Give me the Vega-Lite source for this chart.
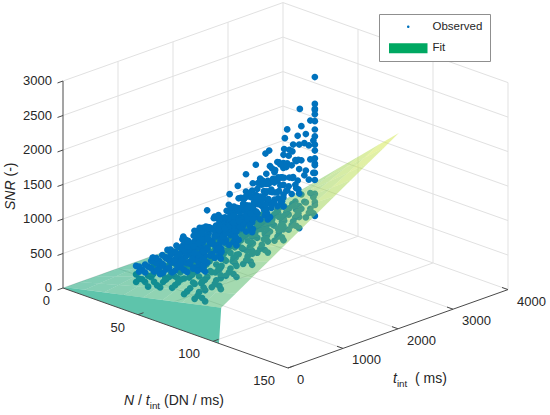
{
  "$schema": "https://vega.github.io/schema/vega-lite/v6.json",
  "width": 550,
  "height": 415,
  "autosize": {"type": "none"},
  "padding": 0,
  "background": "white",
  "config": {"view": {"stroke": null}},
  "datasets": {
    "grid": [
      {"r0":0,"t0":1000,"s0":0,"r1":0,"t1":1000,"s1":3000},
      {"r0":0,"t0":2000,"s0":0,"r1":0,"t1":2000,"s1":3000},
      {"r0":0,"t0":3000,"s0":0,"r1":0,"t1":3000,"s1":3000},
      {"r0":0,"t0":4000,"s0":0,"r1":0,"t1":4000,"s1":3000},
      {"r0":0,"t0":0,"s0":0,"r1":0,"t1":4000,"s1":0},
      {"r0":0,"t0":0,"s0":500,"r1":0,"t1":4000,"s1":500},
      {"r0":0,"t0":0,"s0":1000,"r1":0,"t1":4000,"s1":1000},
      {"r0":0,"t0":0,"s0":1500,"r1":0,"t1":4000,"s1":1500},
      {"r0":0,"t0":0,"s0":2000,"r1":0,"t1":4000,"s1":2000},
      {"r0":0,"t0":0,"s0":2500,"r1":0,"t1":4000,"s1":2500},
      {"r0":0,"t0":0,"s0":3000,"r1":0,"t1":4000,"s1":3000},
      {"r0":50,"t0":4000,"s0":0,"r1":50,"t1":4000,"s1":3000},
      {"r0":100,"t0":4000,"s0":0,"r1":100,"t1":4000,"s1":3000},
      {"r0":150,"t0":4000,"s0":0,"r1":150,"t1":4000,"s1":3000},
      {"r0":0,"t0":4000,"s0":0,"r1":150,"t1":4000,"s1":0},
      {"r0":0,"t0":4000,"s0":500,"r1":150,"t1":4000,"s1":500},
      {"r0":0,"t0":4000,"s0":1000,"r1":150,"t1":4000,"s1":1000},
      {"r0":0,"t0":4000,"s0":1500,"r1":150,"t1":4000,"s1":1500},
      {"r0":0,"t0":4000,"s0":2000,"r1":150,"t1":4000,"s1":2000},
      {"r0":0,"t0":4000,"s0":2500,"r1":150,"t1":4000,"s1":2500},
      {"r0":0,"t0":4000,"s0":3000,"r1":150,"t1":4000,"s1":3000},
      {"r0":50,"t0":0,"s0":0,"r1":50,"t1":4000,"s1":0},
      {"r0":100,"t0":0,"s0":0,"r1":100,"t1":4000,"s1":0},
      {"r0":0,"t0":1000,"s0":0,"r1":150,"t1":1000,"s1":0},
      {"r0":0,"t0":2000,"s0":0,"r1":150,"t1":2000,"s1":0},
      {"r0":0,"t0":3000,"s0":0,"r1":150,"t1":3000,"s1":0}
    ],
    "axes": [
      {"r0":0,"t0":0,"s0":0,"r1":0,"t1":0,"s1":3000},
      {"r0":0,"t0":0,"s0":0,"r1":150,"t1":0,"s1":0},
      {"r0":150,"t0":0,"s0":0,"r1":150,"t1":4000,"s1":0},
      {"r0":0,"t0":0,"s0":0,"r1":0,"t1":-100,"s1":0},
      {"r0":0,"t0":0,"s0":500,"r1":0,"t1":-100,"s1":500},
      {"r0":0,"t0":0,"s0":1000,"r1":0,"t1":-100,"s1":1000},
      {"r0":0,"t0":0,"s0":1500,"r1":0,"t1":-100,"s1":1500},
      {"r0":0,"t0":0,"s0":2000,"r1":0,"t1":-100,"s1":2000},
      {"r0":0,"t0":0,"s0":2500,"r1":0,"t1":-100,"s1":2500},
      {"r0":0,"t0":0,"s0":3000,"r1":0,"t1":-100,"s1":3000},
      {"r0":50,"t0":0,"s0":0,"r1":50,"t1":100,"s1":0},
      {"r0":100,"t0":0,"s0":0,"r1":100,"t1":100,"s1":0},
      {"r0":150,"t0":0,"s0":0,"r1":150,"t1":100,"s1":0},
      {"r0":150,"t0":1000,"s0":0,"r1":146,"t1":1000,"s1":0},
      {"r0":150,"t0":2000,"s0":0,"r1":146,"t1":2000,"s1":0},
      {"r0":150,"t0":3000,"s0":0,"r1":146,"t1":3000,"s1":0},
      {"r0":150,"t0":4000,"s0":0,"r1":146,"t1":4000,"s1":0}
    ],
    "zlab": [
      {"lab":"0","r":0,"t":0,"s":0},{"lab":"500","r":0,"t":0,"s":500},{"lab":"1000","r":0,"t":0,"s":1000},
      {"lab":"1500","r":0,"t":0,"s":1500},{"lab":"2000","r":0,"t":0,"s":2000},{"lab":"2500","r":0,"t":0,"s":2500},
      {"lab":"3000","r":0,"t":0,"s":3000}
    ],
    "nlab": [
      {"lab":"0","r":0,"t":0,"s":0},{"lab":"50","r":50,"t":0,"s":0},{"lab":"100","r":100,"t":0,"s":0},{"lab":"150","r":150,"t":0,"s":0}
    ],
    "tlab": [
      {"lab":"0","r":150,"t":0,"s":0},{"lab":"1000","r":150,"t":1000,"s":0},{"lab":"2000","r":150,"t":2000,"s":0},
      {"lab":"3000","r":150,"t":3000,"s":0},{"lab":"4000","r":150,"t":4000,"s":0}
    ],
    "anchor": [
      {"id":"n","r":75,"t":0,"s":0},
      {"id":"t","r":150,"t":2000,"s":0},
      {"id":"z","r":0,"t":0,"s":1500}
    ],
    "wall": [
      {"c":1,"r":[0,104,104,0],"t":[0,0,40,40],"s":[0,0,506,0]}
    ],
    "cells": [
      {"c":0,"r":[0,13,13,0],"t":[40,40,300,300],"s":[0,63,80,0]},
      {"c":1,"r":[0,13,13,0],"t":[300,300,600,600],"s":[0,80,98,0]},
      {"c":2,"r":[0,13,13,0],"t":[600,600,900,900],"s":[0,98,117,0]},
      {"c":3,"r":[0,13,13,0],"t":[900,900,1200,1200],"s":[0,117,136,0]},
      {"c":4,"r":[0,13,13,0],"t":[1200,1200,1500,1500],"s":[0,136,155,0]},
      {"c":5,"r":[0,13,13,0],"t":[1500,1500,1800,1800],"s":[0,155,173,0]},
      {"c":6,"r":[0,13,13,0],"t":[1800,1800,2100,2100],"s":[0,173,192,0]},
      {"c":7,"r":[0,13,13,0],"t":[2100,2100,2400,2400],"s":[0,192,211,0]},
      {"c":8,"r":[0,13,13,0],"t":[2400,2400,2700,2700],"s":[0,211,230,0]},
      {"c":9,"r":[0,13,13,0],"t":[2700,2700,3000,3000],"s":[0,230,248,0]},
      {"c":10,"r":[0,13,13,0],"t":[3000,3000,3270,3270],"s":[0,248,265,0]},
      {"c":100,"r":[13,26,26,13],"t":[40,40,300,300],"s":[63,127,159,80]},
      {"c":101,"r":[13,26,26,13],"t":[300,300,600,600],"s":[80,159,197,98]},
      {"c":102,"r":[13,26,26,13],"t":[600,600,900,900],"s":[98,197,234,117]},
      {"c":103,"r":[13,26,26,13],"t":[900,900,1200,1200],"s":[117,234,272,136]},
      {"c":104,"r":[13,26,26,13],"t":[1200,1200,1500,1500],"s":[136,272,309,155]},
      {"c":105,"r":[13,26,26,13],"t":[1500,1500,1800,1800],"s":[155,309,347,173]},
      {"c":106,"r":[13,26,26,13],"t":[1800,1800,2100,2100],"s":[173,347,384,192]},
      {"c":107,"r":[13,26,26,13],"t":[2100,2100,2400,2400],"s":[192,384,422,211]},
      {"c":108,"r":[13,26,26,13],"t":[2400,2400,2700,2700],"s":[211,422,459,230]},
      {"c":109,"r":[13,26,26,13],"t":[2700,2700,3000,3000],"s":[230,459,497,248]},
      {"c":110,"r":[13,26,26,13],"t":[3000,3000,3270,3270],"s":[248,497,530,265]},
      {"c":200,"r":[26,39,39,26],"t":[40,40,300,300],"s":[127,190,239,159]},
      {"c":201,"r":[26,39,39,26],"t":[300,300,600,600],"s":[159,239,295,197]},
      {"c":202,"r":[26,39,39,26],"t":[600,600,900,900],"s":[197,295,351,234]},
      {"c":203,"r":[26,39,39,26],"t":[900,900,1200,1200],"s":[234,351,407,272]},
      {"c":204,"r":[26,39,39,26],"t":[1200,1200,1500,1500],"s":[272,407,464,309]},
      {"c":205,"r":[26,39,39,26],"t":[1500,1500,1800,1800],"s":[309,464,520,347]},
      {"c":206,"r":[26,39,39,26],"t":[1800,1800,2100,2100],"s":[347,520,576,384]},
      {"c":207,"r":[26,39,39,26],"t":[2100,2100,2400,2400],"s":[384,576,632,422]},
      {"c":208,"r":[26,39,39,26],"t":[2400,2400,2700,2700],"s":[422,632,689,459]},
      {"c":209,"r":[26,39,39,26],"t":[2700,2700,3000,3000],"s":[459,689,745,497]},
      {"c":210,"r":[26,39,39,26],"t":[3000,3000,3270,3270],"s":[497,745,795,530]},
      {"c":300,"r":[39,52,52,39],"t":[40,40,300,300],"s":[190,253,318,239]},
      {"c":301,"r":[39,52,52,39],"t":[300,300,600,600],"s":[239,318,393,295]},
      {"c":302,"r":[39,52,52,39],"t":[600,600,900,900],"s":[295,393,468,351]},
      {"c":303,"r":[39,52,52,39],"t":[900,900,1200,1200],"s":[351,468,543,407]},
      {"c":304,"r":[39,52,52,39],"t":[1200,1200,1500,1500],"s":[407,543,618,464]},
      {"c":305,"r":[39,52,52,39],"t":[1500,1500,1800,1800],"s":[464,618,693,520]},
      {"c":306,"r":[39,52,52,39],"t":[1800,1800,2100,2100],"s":[520,693,768,576]},
      {"c":307,"r":[39,52,52,39],"t":[2100,2100,2400,2400],"s":[576,768,843,632]},
      {"c":308,"r":[39,52,52,39],"t":[2400,2400,2700,2700],"s":[632,843,918,689]},
      {"c":309,"r":[39,52,52,39],"t":[2700,2700,3000,3000],"s":[689,918,993,745]},
      {"c":310,"r":[39,52,52,39],"t":[3000,3000,3270,3270],"s":[745,993,1061,795]},
      {"c":400,"r":[52,65,65,52],"t":[40,40,300,300],"s":[253,316,398,318]},
      {"c":401,"r":[52,65,65,52],"t":[300,300,600,600],"s":[318,398,491,393]},
      {"c":402,"r":[52,65,65,52],"t":[600,600,900,900],"s":[393,491,585,468]},
      {"c":403,"r":[52,65,65,52],"t":[900,900,1200,1200],"s":[468,585,679,543]},
      {"c":404,"r":[52,65,65,52],"t":[1200,1200,1500,1500],"s":[543,679,773,618]},
      {"c":405,"r":[52,65,65,52],"t":[1500,1500,1800,1800],"s":[618,773,866,693]},
      {"c":406,"r":[52,65,65,52],"t":[1800,1800,2100,2100],"s":[693,866,960,768]},
      {"c":407,"r":[52,65,65,52],"t":[2100,2100,2400,2400],"s":[768,960,1054,843]},
      {"c":408,"r":[52,65,65,52],"t":[2400,2400,2700,2700],"s":[843,1054,1148,918]},
      {"c":409,"r":[52,65,65,52],"t":[2700,2700,3000,3000],"s":[918,1148,1241,993]},
      {"c":410,"r":[52,65,65,52],"t":[3000,3000,3270,3270],"s":[993,1241,1326,1061]},
      {"c":500,"r":[65,78,78,65],"t":[40,40,300,300],"s":[316,380,477,398]},
      {"c":501,"r":[65,78,78,65],"t":[300,300,600,600],"s":[398,477,590,491]},
      {"c":502,"r":[65,78,78,65],"t":[600,600,900,900],"s":[491,590,702,585]},
      {"c":503,"r":[65,78,78,65],"t":[900,900,1200,1200],"s":[585,702,815,679]},
      {"c":504,"r":[65,78,78,65],"t":[1200,1200,1500,1500],"s":[679,815,927,773]},
      {"c":505,"r":[65,78,78,65],"t":[1500,1500,1800,1800],"s":[773,927,1040,866]},
      {"c":506,"r":[65,78,78,65],"t":[1800,1800,2100,2100],"s":[866,1040,1152,960]},
      {"c":507,"r":[65,78,78,65],"t":[2100,2100,2400,2400],"s":[960,1152,1265,1054]},
      {"c":508,"r":[65,78,78,65],"t":[2400,2400,2700,2700],"s":[1054,1265,1377,1148]},
      {"c":509,"r":[65,78,78,65],"t":[2700,2700,3000,3000],"s":[1148,1377,1490,1241]},
      {"c":510,"r":[65,78,78,65],"t":[3000,3000,3270,3270],"s":[1241,1490,1591,1326]},
      {"c":600,"r":[78,91,91,78],"t":[40,40,300,300],"s":[380,443,557,477]},
      {"c":601,"r":[78,91,91,78],"t":[300,300,600,600],"s":[477,557,688,590]},
      {"c":602,"r":[78,91,91,78],"t":[600,600,900,900],"s":[590,688,819,702]},
      {"c":603,"r":[78,91,91,78],"t":[900,900,1200,1200],"s":[702,819,950,815]},
      {"c":604,"r":[78,91,91,78],"t":[1200,1200,1500,1500],"s":[815,950,1082,927]},
      {"c":605,"r":[78,91,91,78],"t":[1500,1500,1800,1800],"s":[927,1082,1213,1040]},
      {"c":606,"r":[78,91,91,78],"t":[1800,1800,2100,2100],"s":[1040,1213,1344,1152]},
      {"c":607,"r":[78,91,91,78],"t":[2100,2100,2400,2400],"s":[1152,1344,1475,1265]},
      {"c":608,"r":[78,91,91,78],"t":[2400,2400,2700,2700],"s":[1265,1475,1607,1377]},
      {"c":609,"r":[78,91,91,78],"t":[2700,2700,3000,3000],"s":[1377,1607,1738,1490]},
      {"c":610,"r":[78,91,91,78],"t":[3000,3000,3270,3270],"s":[1490,1738,1856,1591]},
      {"c":700,"r":[91,104,104,91],"t":[40,40,300,300],"s":[443,506,636,557]},
      {"c":701,"r":[91,104,104,91],"t":[300,300,600,600],"s":[557,636,786,688]},
      {"c":702,"r":[91,104,104,91],"t":[600,600,900,900],"s":[688,786,936,819]},
      {"c":703,"r":[91,104,104,91],"t":[900,900,1200,1200],"s":[819,936,1086,950]},
      {"c":704,"r":[91,104,104,91],"t":[1200,1200,1500,1500],"s":[950,1086,1236,1082]},
      {"c":705,"r":[91,104,104,91],"t":[1500,1500,1800,1800],"s":[1082,1236,1386,1213]},
      {"c":706,"r":[91,104,104,91],"t":[1800,1800,2100,2100],"s":[1213,1386,1536,1344]},
      {"c":707,"r":[91,104,104,91],"t":[2100,2100,2400,2400],"s":[1344,1536,1686,1475]},
      {"c":708,"r":[91,104,104,91],"t":[2400,2400,2700,2700],"s":[1475,1686,1836,1607]},
      {"c":709,"r":[91,104,104,91],"t":[2700,2700,3000,3000],"s":[1607,1836,1986,1738]},
      {"c":710,"r":[91,104,104,91],"t":[3000,3000,3270,3270],"s":[1738,1986,2121,1856]}
    ],
    "obs": [
      {"r":24,"t":675,"s":81},{"r":24,"t":675,"s":190},{"r":24,"t":675,"s":313},
      {"r":28,"t":675,"s":151},{"r":28,"t":675,"s":290},
      {"r":32,"t":675,"s":75},{"r":32,"t":675,"s":233},{"r":32,"t":675,"s":364},
      {"r":36,"t":675,"s":175},{"r":36,"t":675,"s":325},{"r":36,"t":675,"s":466},
      {"r":40,"t":675,"s":125},{"r":40,"t":675,"s":317},{"r":40,"t":675,"s":425},
      {"r":44,"t":675,"s":270},{"r":44,"t":675,"s":418},{"r":44,"t":675,"s":580},
      {"r":48,"t":675,"s":182},{"r":48,"t":675,"s":405},{"r":48,"t":675,"s":553},
      {"r":52,"t":675,"s":290},{"r":52,"t":675,"s":517},{"r":52,"t":675,"s":649},
      {"r":56,"t":675,"s":151},{"r":56,"t":675,"s":379},{"r":56,"t":675,"s":500},{"r":56,"t":675,"s":611},
      {"r":60,"t":675,"s":267},{"r":60,"t":675,"s":475},{"r":60,"t":675,"s":622},{"r":60,"t":675,"s":769},
      {"r":63,"t":675,"s":137},{"r":63,"t":675,"s":354},{"r":63,"t":675,"s":591},{"r":63,"t":675,"s":744},
      {"r":66,"t":675,"s":258},{"r":66,"t":675,"s":485},{"r":66,"t":675,"s":650},{"r":66,"t":675,"s":808},
      {"r":68,"t":675,"s":189},{"r":68,"t":675,"s":422},{"r":68,"t":675,"s":604},{"r":68,"t":675,"s":734},
      {"r":70,"t":675,"s":155},{"r":70,"t":675,"s":315},{"r":70,"t":675,"s":474},{"r":70,"t":675,"s":587},{"r":70,"t":675,"s":704},{"r":70,"t":675,"s":820},
      {"r":26,"t":675,"s":140},{"r":26,"t":675,"s":246},{"r":26,"t":675,"s":319},
      {"r":30,"t":675,"s":126},{"r":30,"t":675,"s":265},{"r":30,"t":675,"s":380},
      {"r":34,"t":675,"s":227},{"r":34,"t":675,"s":356},{"r":34,"t":675,"s":462},
      {"r":38,"t":675,"s":140},{"r":38,"t":675,"s":363},{"r":38,"t":675,"s":457},
      {"r":42,"t":675,"s":220},{"r":42,"t":675,"s":355},{"r":42,"t":675,"s":467},
      {"r":46,"t":675,"s":323},{"r":46,"t":675,"s":460},{"r":46,"t":675,"s":567},
      {"r":50,"t":675,"s":235},{"r":50,"t":675,"s":447},{"r":50,"t":675,"s":562},
      {"r":54,"t":675,"s":349},{"r":54,"t":675,"s":523},{"r":54,"t":675,"s":645},
      {"r":58,"t":675,"s":207},{"r":58,"t":675,"s":488},{"r":58,"t":675,"s":616},
      {"r":62,"t":675,"s":366},{"r":62,"t":675,"s":567},{"r":62,"t":675,"s":702},
      {"r":65,"t":675,"s":198},{"r":65,"t":675,"s":562},{"r":65,"t":675,"s":703},
      {"r":69,"t":675,"s":349},{"r":69,"t":675,"s":645},{"r":69,"t":675,"s":859},
      {"r":25,"t":960,"s":123},{"r":25,"t":960,"s":232},{"r":25,"t":960,"s":357},
      {"r":29,"t":960,"s":198},{"r":29,"t":960,"s":341},
      {"r":33,"t":960,"s":129},{"r":33,"t":960,"s":287},{"r":33,"t":960,"s":429},
      {"r":37,"t":960,"s":234},{"r":37,"t":960,"s":390},{"r":37,"t":960,"s":550},
      {"r":41,"t":960,"s":189},{"r":41,"t":960,"s":381},{"r":41,"t":960,"s":508},
      {"r":45,"t":960,"s":340},{"r":45,"t":960,"s":501},{"r":45,"t":960,"s":695},
      {"r":49,"t":960,"s":257},{"r":49,"t":960,"s":485},{"r":49,"t":960,"s":666},
      {"r":53,"t":960,"s":370},{"r":53,"t":960,"s":622},{"r":53,"t":960,"s":785},
      {"r":57,"t":960,"s":237},{"r":57,"t":960,"s":465},{"r":57,"t":960,"s":600},{"r":57,"t":960,"s":740},
      {"r":61,"t":960,"s":359},{"r":61,"t":960,"s":567},{"r":61,"t":960,"s":754},{"r":61,"t":960,"s":941},
      {"r":64,"t":960,"s":233},{"r":64,"t":960,"s":450},{"r":64,"t":960,"s":713},{"r":64,"t":960,"s":909},
      {"r":67,"t":960,"s":357},{"r":67,"t":960,"s":584},{"r":67,"t":960,"s":786},{"r":67,"t":960,"s":992},
      {"r":69,"t":960,"s":291},{"r":69,"t":960,"s":524},{"r":69,"t":960,"s":726},{"r":69,"t":960,"s":895},
      {"r":70,"t":960,"s":251},{"r":70,"t":960,"s":411},{"r":70,"t":960,"s":570},{"r":70,"t":960,"s":694},{"r":70,"t":960,"s":846},{"r":70,"t":960,"s":998},
      {"r":27,"t":960,"s":185},{"r":27,"t":960,"s":293},{"r":27,"t":960,"s":369},
      {"r":31,"t":960,"s":176},{"r":31,"t":960,"s":317},{"r":31,"t":960,"s":442},
      {"r":35,"t":960,"s":283},{"r":35,"t":960,"s":423},{"r":35,"t":960,"s":542},
      {"r":39,"t":960,"s":201},{"r":39,"t":960,"s":434},{"r":39,"t":960,"s":543},
      {"r":43,"t":960,"s":286},{"r":43,"t":960,"s":426},{"r":43,"t":960,"s":558},
      {"r":47,"t":960,"s":396},{"r":47,"t":960,"s":553},{"r":47,"t":960,"s":683},
      {"r":51,"t":960,"s":313},{"r":51,"t":960,"s":537},{"r":51,"t":960,"s":678},
      {"r":55,"t":960,"s":432},{"r":55,"t":960,"s":629},{"r":55,"t":960,"s":781},
      {"r":59,"t":960,"s":296},{"r":59,"t":960,"s":584},{"r":59,"t":960,"s":747},
      {"r":63,"t":960,"s":460},{"r":63,"t":960,"s":682},{"r":63,"t":960,"s":856},
      {"r":66,"t":960,"s":296},{"r":66,"t":960,"s":674},{"r":66,"t":960,"s":856},
      {"r":70,"t":960,"s":453},{"r":70,"t":960,"s":779},{"r":70,"t":960,"s":1058},
      {"r":24,"t":1245,"s":147},{"r":24,"t":1245,"s":256},{"r":24,"t":1245,"s":383},
      {"r":28,"t":1245,"s":227},{"r":28,"t":1245,"s":376},
      {"r":32,"t":1245,"s":163},{"r":32,"t":1245,"s":321},{"r":32,"t":1245,"s":480},
      {"r":36,"t":1245,"s":274},{"r":36,"t":1245,"s":438},{"r":36,"t":1245,"s":626},
      {"r":40,"t":1245,"s":234},{"r":40,"t":1245,"s":426},{"r":40,"t":1245,"s":579},
      {"r":44,"t":1245,"s":391},{"r":44,"t":1245,"s":572},{"r":44,"t":1245,"s":811},
      {"r":48,"t":1245,"s":314},{"r":48,"t":1245,"s":550},{"r":48,"t":1245,"s":777},
      {"r":52,"t":1245,"s":432},{"r":52,"t":1245,"s":720},{"r":52,"t":1245,"s":928},
      {"r":56,"t":1245,"s":304},{"r":56,"t":1245,"s":532},{"r":56,"t":1245,"s":687},{"r":56,"t":1245,"s":868},
      {"r":60,"t":1245,"s":432},{"r":60,"t":1245,"s":640},{"r":60,"t":1245,"s":884},{"r":60,"t":1245,"s":1128},
      {"r":63,"t":1245,"s":310},{"r":63,"t":1245,"s":527},{"r":63,"t":1245,"s":827},{"r":63,"t":1245,"s":1085},
      {"r":66,"t":1245,"s":439},{"r":66,"t":1245,"s":666},{"r":66,"t":1245,"s":921},{"r":66,"t":1245,"s":1193},
      {"r":68,"t":1245,"s":375},{"r":68,"t":1245,"s":608},{"r":68,"t":1245,"s":837},{"r":68,"t":1245,"s":1062},
      {"r":70,"t":1245,"s":347},{"r":70,"t":1245,"s":507},{"r":70,"t":1245,"s":666},{"r":70,"t":1245,"s":804},{"r":70,"t":1245,"s":1007},{"r":70,"t":1245,"s":1210},
      {"r":26,"t":1245,"s":211},{"r":26,"t":1245,"s":322},{"r":26,"t":1245,"s":402},
      {"r":30,"t":1245,"s":208},{"r":30,"t":1245,"s":352},{"r":30,"t":1245,"s":491},
      {"r":34,"t":1245,"s":320},{"r":34,"t":1245,"s":475},{"r":34,"t":1245,"s":613},
      {"r":38,"t":1245,"s":244},{"r":38,"t":1245,"s":491},{"r":38,"t":1245,"s":620},
      {"r":42,"t":1245,"s":335},{"r":42,"t":1245,"s":480},{"r":42,"t":1245,"s":642},
      {"r":46,"t":1245,"s":449},{"r":46,"t":1245,"s":634},{"r":46,"t":1245,"s":796},
      {"r":50,"t":1245,"s":372},{"r":50,"t":1245,"s":612},{"r":50,"t":1245,"s":791},
      {"r":54,"t":1245,"s":497},{"r":54,"t":1245,"s":728},{"r":54,"t":1245,"s":923},
      {"r":58,"t":1245,"s":366},{"r":58,"t":1245,"s":665},{"r":58,"t":1245,"s":877},
      {"r":62,"t":1245,"s":536},{"r":62,"t":1245,"s":788},{"r":62,"t":1245,"s":1016},
      {"r":65,"t":1245,"s":376},{"r":65,"t":1245,"s":773},{"r":65,"t":1245,"s":1013},
      {"r":69,"t":1245,"s":539},{"r":69,"t":1245,"s":907},{"r":69,"t":1245,"s":1278},
      {"r":25,"t":1530,"s":192},{"r":25,"t":1530,"s":301},{"r":25,"t":1530,"s":431},
      {"r":29,"t":1530,"s":278},{"r":29,"t":1530,"s":433},
      {"r":33,"t":1530,"s":219},{"r":33,"t":1530,"s":377},{"r":33,"t":1530,"s":553},
      {"r":37,"t":1530,"s":335},{"r":37,"t":1530,"s":507},{"r":37,"t":1530,"s":723},
      {"r":41,"t":1530,"s":301},{"r":41,"t":1530,"s":493},{"r":41,"t":1530,"s":672},
      {"r":45,"t":1530,"s":463},{"r":45,"t":1530,"s":663},{"r":45,"t":1530,"s":948},
      {"r":49,"t":1530,"s":391},{"r":49,"t":1530,"s":635},{"r":49,"t":1530,"s":908},
      {"r":53,"t":1530,"s":516},{"r":53,"t":1530,"s":840},{"r":53,"t":1530,"s":1093},
      {"r":57,"t":1530,"s":393},{"r":57,"t":1530,"s":621},{"r":57,"t":1530,"s":797},{"r":57,"t":1530,"s":1018},
      {"r":61,"t":1530,"s":526},{"r":61,"t":1530,"s":734},{"r":61,"t":1530,"s":1036},{"r":61,"t":1530,"s":1337},
      {"r":64,"t":1530,"s":408},{"r":64,"t":1530,"s":625},{"r":64,"t":1530,"s":962},{"r":64,"t":1530,"s":1281},
      {"r":67,"t":1530,"s":541},{"r":67,"t":1530,"s":768},{"r":67,"t":1530,"s":1076},{"r":67,"t":1530,"s":1414},
      {"r":69,"t":1530,"s":480},{"r":69,"t":1530,"s":713},{"r":69,"t":1530,"s":970},{"r":69,"t":1530,"s":1250},
      {"r":70,"t":1530,"s":443},{"r":70,"t":1530,"s":603},{"r":70,"t":1530,"s":762},{"r":70,"t":1530,"s":915},{"r":70,"t":1530,"s":1168},{"r":70,"t":1530,"s":1422},
      {"r":27,"t":1530,"s":259},{"r":27,"t":1530,"s":372},{"r":27,"t":1530,"s":456},
      {"r":31,"t":1530,"s":261},{"r":31,"t":1530,"s":408},{"r":31,"t":1530,"s":562},
      {"r":35,"t":1530,"s":379},{"r":35,"t":1530,"s":549},{"r":35,"t":1530,"s":706},
      {"r":39,"t":1530,"s":308},{"r":39,"t":1530,"s":569},{"r":39,"t":1530,"s":719},
      {"r":43,"t":1530,"s":404},{"r":43,"t":1530,"s":555},{"r":43,"t":1530,"s":746},
      {"r":47,"t":1530,"s":524},{"r":47,"t":1530,"s":737},{"r":47,"t":1530,"s":931},
      {"r":51,"t":1530,"s":453},{"r":51,"t":1530,"s":710},{"r":51,"t":1530,"s":926},
      {"r":55,"t":1530,"s":583},{"r":55,"t":1530,"s":848},{"r":55,"t":1530,"s":1086},
      {"r":59,"t":1530,"s":458},{"r":59,"t":1530,"s":768},{"r":59,"t":1530,"s":1028},
      {"r":63,"t":1530,"s":633},{"r":63,"t":1530,"s":915},{"r":63,"t":1530,"s":1197},
      {"r":66,"t":1530,"s":477},{"r":66,"t":1530,"s":894},{"r":66,"t":1530,"s":1192},
      {"r":70,"t":1530,"s":645},{"r":70,"t":1530,"s":1056},{"r":70,"t":1530,"s":1519},
      {"r":24,"t":1815,"s":213},{"r":24,"t":1815,"s":322},{"r":24,"t":1815,"s":453},
      {"r":28,"t":1815,"s":304},{"r":28,"t":1815,"s":463},
      {"r":32,"t":1815,"s":251},{"r":32,"t":1815,"s":409},{"r":32,"t":1815,"s":593},
      {"r":36,"t":1815,"s":372},{"r":36,"t":1815,"s":548},{"r":36,"t":1815,"s":779},
      {"r":40,"t":1815,"s":344},{"r":40,"t":1815,"s":536},{"r":40,"t":1815,"s":729},
      {"r":44,"t":1815,"s":512},{"r":44,"t":1815,"s":722},{"r":44,"t":1815,"s":1031},
      {"r":48,"t":1815,"s":445},{"r":48,"t":1815,"s":693},{"r":48,"t":1815,"s":990},
      {"r":52,"t":1815,"s":575},{"r":52,"t":1815,"s":917},{"r":52,"t":1815,"s":1193},
      {"r":56,"t":1815,"s":457},{"r":56,"t":1815,"s":685},{"r":56,"t":1815,"s":871},{"r":56,"t":1815,"s":1114},
      {"r":60,"t":1815,"s":596},{"r":60,"t":1815,"s":804},{"r":60,"t":1815,"s":1135},{"r":60,"t":1815,"s":1466},
      {"r":63,"t":1815,"s":482},{"r":63,"t":1815,"s":699},{"r":63,"t":1815,"s":1055},{"r":63,"t":1815,"s":1406},
      {"r":66,"t":1815,"s":619},{"r":66,"t":1815,"s":846},{"r":66,"t":1815,"s":1182},{"r":66,"t":1815,"s":1555},
      {"r":68,"t":1815,"s":561},{"r":68,"t":1815,"s":794},{"r":68,"t":1815,"s":1065},{"r":68,"t":1815,"s":1374},
      {"r":70,"t":1815,"s":539},{"r":70,"t":1815,"s":699},{"r":70,"t":1815,"s":858},{"r":70,"t":1815,"s":1018},{"r":70,"t":1815,"s":1298},{"r":70,"t":1815,"s":1578},
      {"r":26,"t":1815,"s":282},{"r":26,"t":1815,"s":396},{"r":26,"t":1815,"s":482},
      {"r":30,"t":1815,"s":290},{"r":30,"t":1815,"s":439},{"r":30,"t":1815,"s":600},
      {"r":34,"t":1815,"s":414},{"r":34,"t":1815,"s":592},{"r":34,"t":1815,"s":758},
      {"r":38,"t":1815,"s":348},{"r":38,"t":1815,"s":616},{"r":38,"t":1815,"s":777},
      {"r":42,"t":1815,"s":450},{"r":42,"t":1815,"s":604},{"r":42,"t":1815,"s":811},
      {"r":46,"t":1815,"s":575},{"r":46,"t":1815,"s":803},{"r":46,"t":1815,"s":1014},
      {"r":50,"t":1815,"s":509},{"r":50,"t":1815,"s":775},{"r":50,"t":1815,"s":1010},
      {"r":54,"t":1815,"s":645},{"r":54,"t":1815,"s":927},{"r":54,"t":1815,"s":1187},
      {"r":58,"t":1815,"s":525},{"r":58,"t":1815,"s":840},{"r":58,"t":1815,"s":1126},
      {"r":62,"t":1815,"s":706},{"r":62,"t":1815,"s":1004},{"r":62,"t":1815,"s":1314},
      {"r":65,"t":1815,"s":554},{"r":65,"t":1815,"s":981},{"r":65,"t":1815,"s":1310},
      {"r":69,"t":1815,"s":728},{"r":69,"t":1815,"s":1161},{"r":69,"t":1815,"s":1672},
      {"r":25,"t":2100,"s":260},{"r":25,"t":2100,"s":369},{"r":25,"t":2100,"s":502},
      {"r":29,"t":2100,"s":357},{"r":29,"t":2100,"s":520},
      {"r":33,"t":2100,"s":309},{"r":33,"t":2100,"s":467},{"r":33,"t":2100,"s":663},
      {"r":37,"t":2100,"s":436},{"r":37,"t":2100,"s":618},{"r":37,"t":2100,"s":868},
      {"r":41,"t":2100,"s":414},{"r":41,"t":2100,"s":606},{"r":41,"t":2100,"s":817},
      {"r":45,"t":2100,"s":587},{"r":45,"t":2100,"s":811},{"r":45,"t":2100,"s":1150},
      {"r":49,"t":2100,"s":526},{"r":49,"t":2100,"s":779},{"r":49,"t":2100,"s":1108},
      {"r":53,"t":2100,"s":661},{"r":53,"t":2100,"s":1028},{"r":53,"t":2100,"s":1335},
      {"r":57,"t":2100,"s":549},{"r":57,"t":2100,"s":777},{"r":57,"t":2100,"s":977},{"r":57,"t":2100,"s":1248},
      {"r":61,"t":2100,"s":693},{"r":61,"t":2100,"s":901},{"r":61,"t":2100,"s":1271},{"r":61,"t":2100,"s":1641},
      {"r":64,"t":2100,"s":583},{"r":64,"t":2100,"s":800},{"r":64,"t":2100,"s":1181},{"r":64,"t":2100,"s":1575},
      {"r":67,"t":2100,"s":725},{"r":67,"t":2100,"s":952},{"r":67,"t":2100,"s":1324},{"r":67,"t":2100,"s":1742},
      {"r":69,"t":2100,"s":669},{"r":69,"t":2100,"s":902},{"r":69,"t":2100,"s":1193},{"r":69,"t":2100,"s":1540},
      {"r":70,"t":2100,"s":635},{"r":70,"t":2100,"s":795},{"r":70,"t":2100,"s":954},{"r":70,"t":2100,"s":1124},{"r":70,"t":2100,"s":1439},{"r":70,"t":2100,"s":1754},
      {"r":27,"t":2100,"s":333},{"r":27,"t":2100,"s":449},{"r":27,"t":2100,"s":538},
      {"r":31,"t":2100,"s":346},{"r":31,"t":2100,"s":497},{"r":31,"t":2100,"s":668},
      {"r":35,"t":2100,"s":475},{"r":35,"t":2100,"s":664},{"r":35,"t":2100,"s":843},
      {"r":39,"t":2100,"s":415},{"r":39,"t":2100,"s":693},{"r":39,"t":2100,"s":868},
      {"r":43,"t":2100,"s":522},{"r":43,"t":2100,"s":680},{"r":43,"t":2100,"s":907},
      {"r":47,"t":2100,"s":653},{"r":47,"t":2100,"s":901},{"r":47,"t":2100,"s":1133},
      {"r":51,"t":2100,"s":592},{"r":51,"t":2100,"s":869},{"r":51,"t":2100,"s":1131},
      {"r":55,"t":2100,"s":733},{"r":55,"t":2100,"s":1038},{"r":55,"t":2100,"s":1328},
      {"r":59,"t":2100,"s":619},{"r":59,"t":2100,"s":942},{"r":59,"t":2100,"s":1261},
      {"r":63,"t":2100,"s":806},{"r":63,"t":2100,"s":1124},{"r":63,"t":2100,"s":1472},
      {"r":66,"t":2100,"s":658},{"r":66,"t":2100,"s":1098},{"r":66,"t":2100,"s":1468},
      {"r":70,"t":2100,"s":837},{"r":70,"t":2100,"s":1299},{"r":70,"t":2100,"s":1874},
      {"r":24,"t":2385,"s":278},{"r":24,"t":2385,"s":387},{"r":24,"t":2385,"s":521},
      {"r":28,"t":2385,"s":381},{"r":28,"t":2385,"s":549},
      {"r":32,"t":2385,"s":338},{"r":32,"t":2385,"s":496},{"r":32,"t":2385,"s":705},
      {"r":36,"t":2385,"s":471},{"r":36,"t":2385,"s":659},{"r":36,"t":2385,"s":932},
      {"r":40,"t":2385,"s":454},{"r":40,"t":2385,"s":646},{"r":40,"t":2385,"s":878},
      {"r":44,"t":2385,"s":632},{"r":44,"t":2385,"s":871},{"r":44,"t":2385,"s":1247},
      {"r":48,"t":2385,"s":577},{"r":48,"t":2385,"s":836},{"r":48,"t":2385,"s":1202},
      {"r":52,"t":2385,"s":717},{"r":52,"t":2385,"s":1113},{"r":52,"t":2385,"s":1455},
      {"r":56,"t":2385,"s":611},{"r":56,"t":2385,"s":839},{"r":56,"t":2385,"s":1055},{"r":56,"t":2385,"s":1358},
      {"r":60,"t":2385,"s":760},{"r":60,"t":2385,"s":968},{"r":60,"t":2385,"s":1384},{"r":60,"t":2385,"s":1799},
      {"r":63,"t":2385,"s":655},{"r":63,"t":2385,"s":872},{"r":63,"t":2385,"s":1283},{"r":63,"t":2385,"s":1726},
      {"r":66,"t":2385,"s":800},{"r":66,"t":2385,"s":1027},{"r":66,"t":2385,"s":1441},{"r":66,"t":2385,"s":1912},
      {"r":68,"t":2385,"s":748},{"r":68,"t":2385,"s":981},{"r":68,"t":2385,"s":1294},{"r":68,"t":2385,"s":1685},
      {"r":70,"t":2385,"s":731},{"r":70,"t":2385,"s":891},{"r":70,"t":2385,"s":1050},{"r":70,"t":2385,"s":1232},{"r":70,"t":2385,"s":1587},{"r":70,"t":2385,"s":1942},
      {"r":26,"t":2385,"s":354},{"r":26,"t":2385,"s":471},{"r":26,"t":2385,"s":564},
      {"r":30,"t":2385,"s":372},{"r":30,"t":2385,"s":526},{"r":30,"t":2385,"s":707},
      {"r":34,"t":2385,"s":507},{"r":34,"t":2385,"s":707},{"r":34,"t":2385,"s":901},
      {"r":38,"t":2385,"s":452},{"r":38,"t":2385,"s":741},{"r":38,"t":2385,"s":933},
      {"r":42,"t":2385,"s":565},{"r":42,"t":2385,"s":728},{"r":42,"t":2385,"s":977},
      {"r":46,"t":2385,"s":701},{"r":46,"t":2385,"s":971},{"r":46,"t":2385,"s":1229},
      {"r":50,"t":2385,"s":646},{"r":50,"t":2385,"s":936},{"r":50,"t":2385,"s":1228},
      {"r":54,"t":2385,"s":793},{"r":54,"t":2385,"s":1124},{"r":54,"t":2385,"s":1449},
      {"r":58,"t":2385,"s":684},{"r":58,"t":2385,"s":1015},{"r":58,"t":2385,"s":1373},
      {"r":62,"t":2385,"s":876},{"r":62,"t":2385,"s":1218},{"r":62,"t":2385,"s":1609},
      {"r":65,"t":2385,"s":732},{"r":65,"t":2385,"s":1187},{"r":65,"t":2385,"s":1603},
      {"r":69,"t":2385,"s":917},{"r":69,"t":2385,"s":1413},{"r":69,"t":2385,"s":2061},
      {"r":25,"t":2670,"s":329},{"r":25,"t":2670,"s":438},{"r":25,"t":2670,"s":576},
      {"r":29,"t":2670,"s":437},{"r":29,"t":2670,"s":613},
      {"r":33,"t":2670,"s":400},{"r":33,"t":2670,"s":558},{"r":33,"t":2670,"s":790},
      {"r":37,"t":2670,"s":538},{"r":37,"t":2670,"s":737},{"r":37,"t":2670,"s":1049},
      {"r":41,"t":2670,"s":526},{"r":41,"t":2670,"s":718},{"r":41,"t":2670,"s":986},
      {"r":45,"t":2670,"s":710},{"r":45,"t":2670,"s":976},{"r":45,"t":2670,"s":1415},
      {"r":49,"t":2670,"s":660},{"r":49,"t":2670,"s":930},{"r":49,"t":2670,"s":1361},
      {"r":53,"t":2670,"s":806},{"r":53,"t":2670,"s":1251},{"r":53,"t":2670,"s":1655},
      {"r":57,"t":2670,"s":705},{"r":57,"t":2670,"s":933},{"r":57,"t":2670,"s":1178},{"r":57,"t":2670,"s":1537},
      {"r":61,"t":2670,"s":860},{"r":61,"t":2670,"s":1068},{"r":61,"t":2670,"s":1563},{"r":61,"t":2670,"s":2058},
      {"r":64,"t":2670,"s":759},{"r":64,"t":2670,"s":976},{"r":64,"t":2670,"s":1438},{"r":64,"t":2670,"s":1967},
      {"r":67,"t":2670,"s":908},{"r":67,"t":2670,"s":1135},{"r":67,"t":2670,"s":1623},{"r":67,"t":2670,"s":2186},
      {"r":69,"t":2670,"s":858},{"r":69,"t":2670,"s":1091},{"r":69,"t":2670,"s":1442},{"r":69,"t":2670,"s":1911},
      {"r":70,"t":2670,"s":827},{"r":70,"t":2670,"s":987},{"r":70,"t":2670,"s":1146},{"r":70,"t":2670,"s":1348},{"r":70,"t":2670,"s":1774},{"r":70,"t":2670,"s":2200},
      {"r":27,"t":2670,"s":407},{"r":27,"t":2670,"s":528},{"r":27,"t":2670,"s":626},
      {"r":31,"t":2670,"s":431},{"r":31,"t":2670,"s":589},{"r":31,"t":2670,"s":790},
      {"r":35,"t":2670,"s":571},{"r":35,"t":2670,"s":793},{"r":35,"t":2670,"s":1013},
      {"r":39,"t":2670,"s":522},{"r":39,"t":2670,"s":830},{"r":39,"t":2670,"s":1051},
      {"r":43,"t":2670,"s":640},{"r":43,"t":2670,"s":811},{"r":43,"t":2670,"s":1102},
      {"r":47,"t":2670,"s":782},{"r":47,"t":2670,"s":1092},{"r":47,"t":2670,"s":1394},
      {"r":51,"t":2670,"s":732},{"r":51,"t":2670,"s":1045},{"r":51,"t":2670,"s":1388},
      {"r":55,"t":2670,"s":884},{"r":55,"t":2670,"s":1262},{"r":55,"t":2670,"s":1646},
      {"r":59,"t":2670,"s":781},{"r":59,"t":2670,"s":1128},{"r":59,"t":2670,"s":1553},
      {"r":63,"t":2670,"s":978},{"r":63,"t":2670,"s":1362},{"r":63,"t":2670,"s":1828},
      {"r":66,"t":2670,"s":839},{"r":66,"t":2670,"s":1322},{"r":66,"t":2670,"s":1818},
      {"r":70,"t":2670,"s":1029},{"r":70,"t":2670,"s":1585},{"r":70,"t":2670,"s":2361},
      {"r":70,"t":2670,"s":1450},{"r":70,"t":2670,"s":1560},{"r":70,"t":2670,"s":1660},{"r":70,"t":2670,"s":1860},{"r":70,"t":2670,"s":1980},
      {"r":70,"t":2670,"s":2080},{"r":70,"t":2670,"s":2300},{"r":70,"t":2670,"s":2380},{"r":70,"t":2670,"s":2450},{"r":70,"t":2670,"s":2840},
      {"r":35,"t":675,"s":520},{"r":50,"t":675,"s":720},{"r":45,"t":960,"s":820},{"r":60,"t":960,"s":1080},
      {"r":42,"t":1245,"s":800},{"r":58,"t":1245,"s":1150},{"r":40,"t":1530,"s":1000},{"r":55,"t":1530,"s":1350},
      {"r":50,"t":1815,"s":1350},{"r":62,"t":1815,"s":1750},{"r":45,"t":2100,"s":1400},{"r":58,"t":2100,"s":1800},
      {"r":50,"t":2385,"s":1700},{"r":62,"t":2385,"s":2100},{"r":50,"t":2670,"s":1800},{"r":60,"t":2670,"s":2300}
    ]
  },
  "encoding": {
    "x": {"field": "px", "type": "quantitative", "scale": {"domain": [0, 550], "nice": false, "zero": false}, "axis": null},
    "y": {"field": "py", "type": "quantitative", "scale": {"domain": [415, 0], "nice": false, "zero": false}, "axis": null}
  },
  "layer": [
    {
      "data": {"name": "grid"},
      "transform": [
        {"calculate": "63 + 1.5*datum.r0 + 0.055*datum.t0", "as": "px"},
        {"calculate": "288 + 0.5333*datum.r0 - 0.0196*datum.t0 - 0.069*datum.s0", "as": "py"},
        {"calculate": "63 + 1.5*datum.r1 + 0.055*datum.t1", "as": "px2"},
        {"calculate": "288 + 0.5333*datum.r1 - 0.0196*datum.t1 - 0.069*datum.s1", "as": "py2"}
      ],
      "mark": {"type": "rule", "color": "#e1e1e1", "strokeWidth": 1},
      "encoding": {"x2": {"field": "px2"}, "y2": {"field": "py2"}}
    },
    {
      "data": {"name": "obs"},
      "transform": [
        {"filter": "datum.s < datum.r*(486 + 0.5*datum.t)/104"},
        {"calculate": "63 + 1.5*datum.r + 0.055*datum.t", "as": "px"},
        {"calculate": "288 + 0.5333*datum.r - 0.0196*datum.t - 0.069*datum.s", "as": "py"}
      ],
      "mark": {"type": "point", "filled": true, "size": 850, "opacity": 1, "strokeWidth": 0},
      "encoding": {
        "color": {
          "datum": "Observed", "type": "nominal",
          "scale": {"domain": ["Observed", "Fit"], "range": ["#0072bd", "#00a862"]},
          "legend": {
            "orient": "none", "legendX": 379, "legendY": 14, "title": null,
            "padding": 7, "strokeColor": "#8f8f8f", "fillColor": "#ffffff",
            "labelFont": "Liberation Sans", "labelFontSize": 11.5, "labelColor": "#262626",
            "labelOffset": 18.5, "symbolOffset": 16.5, "symbolSize": 121, "symbolStrokeWidth": 0,
            "symbolOpacity": 1, "rowPadding": 8.5
          }
        },
        "shape": {
          "datum": "Observed", "type": "nominal",
          "scale": {"domain": ["Observed", "Fit"], "range": ["M0.23,0A0.23,0.23,0,1,1,-0.23,0A0.23,0.23,0,1,1,0.23,0Z", "M-3.5,-0.9H3.5V0.9H-3.5Z"]},
          "legend": {
            "orient": "none", "legendX": 379, "legendY": 14, "title": null,
            "padding": 7, "strokeColor": "#8f8f8f", "fillColor": "#ffffff",
            "labelFont": "Liberation Sans", "labelFontSize": 11.5, "labelColor": "#262626",
            "labelOffset": 18.5, "symbolOffset": 16.5, "symbolSize": 121, "symbolStrokeWidth": 0,
            "symbolOpacity": 1, "rowPadding": 8.5
          }
        }
      }
    },
    {
      "data": {"name": "wall"},
      "transform": [
        {"flatten": ["r", "t", "s"]},
        {"window": [{"op": "row_number", "as": "k"}], "groupby": ["c"]},
        {"calculate": "63 + 1.5*datum.r + 0.055*datum.t", "as": "px"},
        {"calculate": "288 + 0.5333*datum.r - 0.0196*datum.t - 0.069*datum.s", "as": "py"}
      ],
      "mark": {"type": "line", "interpolate": "linear-closed", "strokeOpacity": 0, "strokeWidth": 0},
      "encoding": {
        "detail": {"field": "c", "type": "nominal"},
        "order": {"field": "k", "type": "quantitative"},
        "fill": {"value": "#5ec4ab"}
      }
    },
    {
      "data": {"name": "cells"},
      "transform": [
        {"flatten": ["r", "t", "s"]},
        {"window": [{"op": "row_number", "as": "k"}], "groupby": ["c"]},
        {"joinaggregate": [{"op": "mean", "field": "s", "as": "zc"}], "groupby": ["c"]},
        {"calculate": "63 + 1.5*datum.r + 0.055*datum.t", "as": "px"},
        {"calculate": "288 + 0.5333*datum.r - 0.0196*datum.t - 0.069*datum.s", "as": "py"}
      ],
      "mark": {"type": "line", "interpolate": "linear-closed", "strokeOpacity": 0, "strokeWidth": 0, "fillOpacity": 0.5},
      "encoding": {
        "detail": {"field": "c", "type": "nominal"},
        "order": {"field": "k", "type": "quantitative"},
        "fill": {
          "field": "zc", "type": "quantitative",
          "scale": {"domain": [0, 700, 1400, 2121], "range": ["#009b6d", "#4db761", "#9fd34d", "#e3ef49"], "interpolate": "rgb"},
          "legend": null
        }
      }
    },
    {
      "data": {"name": "obs"},
      "transform": [
        {"filter": "datum.s >= datum.r*(486 + 0.5*datum.t)/104"},
        {"calculate": "63 + 1.5*datum.r + 0.055*datum.t", "as": "px"},
        {"calculate": "288 + 0.5333*datum.r - 0.0196*datum.t - 0.069*datum.s", "as": "py"}
      ],
      "mark": {"type": "point", "filled": true, "size": 850, "opacity": 1, "strokeWidth": 0},
      "encoding": {
        "color": {
          "datum": "Observed", "type": "nominal",
          "scale": {"domain": ["Observed", "Fit"], "range": ["#0072bd", "#00a862"]},
          "legend": {
            "orient": "none", "legendX": 379, "legendY": 14, "title": null,
            "padding": 7, "strokeColor": "#8f8f8f", "fillColor": "#ffffff",
            "labelFont": "Liberation Sans", "labelFontSize": 11.5, "labelColor": "#262626",
            "labelOffset": 18.5, "symbolOffset": 16.5, "symbolSize": 121, "symbolStrokeWidth": 0,
            "symbolOpacity": 1, "rowPadding": 8.5
          }
        },
        "shape": {
          "datum": "Observed", "type": "nominal",
          "scale": {"domain": ["Observed", "Fit"], "range": ["M0.23,0A0.23,0.23,0,1,1,-0.23,0A0.23,0.23,0,1,1,0.23,0Z", "M-3.5,-0.9H3.5V0.9H-3.5Z"]},
          "legend": {
            "orient": "none", "legendX": 379, "legendY": 14, "title": null,
            "padding": 7, "strokeColor": "#8f8f8f", "fillColor": "#ffffff",
            "labelFont": "Liberation Sans", "labelFontSize": 11.5, "labelColor": "#262626",
            "labelOffset": 18.5, "symbolOffset": 16.5, "symbolSize": 121, "symbolStrokeWidth": 0,
            "symbolOpacity": 1, "rowPadding": 8.5
          }
        }
      }
    },
    {
      "data": {"name": "axes"},
      "transform": [
        {"calculate": "63 + 1.5*datum.r0 + 0.055*datum.t0", "as": "px"},
        {"calculate": "288 + 0.5333*datum.r0 - 0.0196*datum.t0 - 0.069*datum.s0", "as": "py"},
        {"calculate": "63 + 1.5*datum.r1 + 0.055*datum.t1", "as": "px2"},
        {"calculate": "288 + 0.5333*datum.r1 - 0.0196*datum.t1 - 0.069*datum.s1", "as": "py2"}
      ],
      "mark": {"type": "rule", "color": "#4a4a4a", "strokeWidth": 1},
      "encoding": {"x2": {"field": "px2"}, "y2": {"field": "py2"}}
    },
    {
      "data": {"name": "zlab"},
      "transform": [
        {"calculate": "63 + 1.5*datum.r + 0.055*datum.t", "as": "px"},
        {"calculate": "288 + 0.5333*datum.r - 0.0196*datum.t - 0.069*datum.s", "as": "py"}
      ],
      "mark": {"type": "text", "align": "right", "baseline": "middle", "dx": -11, "font": "Liberation Sans", "fontSize": 13, "color": "#262626"},
      "encoding": {"text": {"field": "lab", "type": "nominal"}}
    },
    {
      "data": {"name": "nlab"},
      "transform": [
        {"calculate": "63 + 1.5*datum.r + 0.055*datum.t", "as": "px"},
        {"calculate": "288 + 0.5333*datum.r - 0.0196*datum.t - 0.069*datum.s", "as": "py"}
      ],
      "mark": {"type": "text", "align": "right", "baseline": "middle", "dx": -13, "dy": 13, "font": "Liberation Sans", "fontSize": 13, "color": "#262626"},
      "encoding": {"text": {"field": "lab", "type": "nominal"}}
    },
    {
      "data": {"name": "tlab"},
      "transform": [
        {"calculate": "63 + 1.5*datum.r + 0.055*datum.t", "as": "px"},
        {"calculate": "288 + 0.5333*datum.r - 0.0196*datum.t - 0.069*datum.s", "as": "py"}
      ],
      "mark": {"type": "text", "align": "left", "baseline": "middle", "dx": 9, "dy": 12, "font": "Liberation Sans", "fontSize": 13, "color": "#262626"},
      "encoding": {"text": {"field": "lab", "type": "nominal"}}
    },
    {
      "data": {"name": "anchor"},
      "transform": [
        {"calculate": "63 + 1.5*datum.r + 0.055*datum.t", "as": "px"},
        {"calculate": "288 + 0.5333*datum.r - 0.0196*datum.t - 0.069*datum.s", "as": "py"}
      ],
      "layer": [
        {"transform": [{"filter": "datum.id === 'n'"}], "mark": {"type": "text", "text": "N", "align": "left", "baseline": "alphabetic", "dx": -51.5, "dy": 77, "font": "Liberation Sans", "fontStyle": "italic", "fontSize": 14, "color": "#262626"}},
        {"transform": [{"filter": "datum.id === 'n'"}], "mark": {"type": "text", "text": "/", "align": "left", "baseline": "alphabetic", "dx": -37.5, "dy": 77, "font": "Liberation Sans", "fontSize": 14, "color": "#262626"}},
        {"transform": [{"filter": "datum.id === 'n'"}], "mark": {"type": "text", "text": "t", "align": "left", "baseline": "alphabetic", "dx": -29.7, "dy": 77, "font": "Liberation Sans", "fontStyle": "italic", "fontSize": 14, "color": "#262626"}},
        {"transform": [{"filter": "datum.id === 'n'"}], "mark": {"type": "text", "text": "int", "align": "left", "baseline": "alphabetic", "dx": -25.8, "dy": 81.5, "font": "Liberation Sans", "fontSize": 9.8, "color": "#262626"}},
        {"transform": [{"filter": "datum.id === 'n'"}], "mark": {"type": "text", "text": "(DN / ms)", "align": "left", "baseline": "alphabetic", "dx": -11.5, "dy": 77, "font": "Liberation Sans", "fontSize": 14, "color": "#262626"}},
        {"transform": [{"filter": "datum.id === 't'"}], "mark": {"type": "text", "text": "t", "align": "left", "baseline": "alphabetic", "dx": -5, "dy": 54, "font": "Liberation Sans", "fontStyle": "italic", "fontSize": 14, "color": "#262626"}},
        {"transform": [{"filter": "datum.id === 't'"}], "mark": {"type": "text", "text": "int", "align": "left", "baseline": "alphabetic", "dx": -1.1, "dy": 58.5, "font": "Liberation Sans", "fontSize": 9.8, "color": "#262626"}},
        {"transform": [{"filter": "datum.id === 't'"}], "mark": {"type": "text", "text": "( ms)", "align": "left", "baseline": "alphabetic", "dx": 17, "dy": 54, "font": "Liberation Sans", "fontSize": 14, "color": "#262626"}},
        {"transform": [{"filter": "datum.id === 'z'"}], "mark": {"type": "text", "text": "SNR", "align": "left", "baseline": "middle", "angle": 270, "dx": -25.5, "dy": -52, "font": "Liberation Sans", "fontStyle": "italic", "fontSize": 14, "color": "#262626"}},
        {"transform": [{"filter": "datum.id === 'z'"}], "mark": {"type": "text", "text": "(-)", "align": "left", "baseline": "middle", "angle": 270, "dx": 8, "dy": -52, "font": "Liberation Sans", "fontSize": 14, "color": "#262626"}}
      ]
    }
  ]
}
